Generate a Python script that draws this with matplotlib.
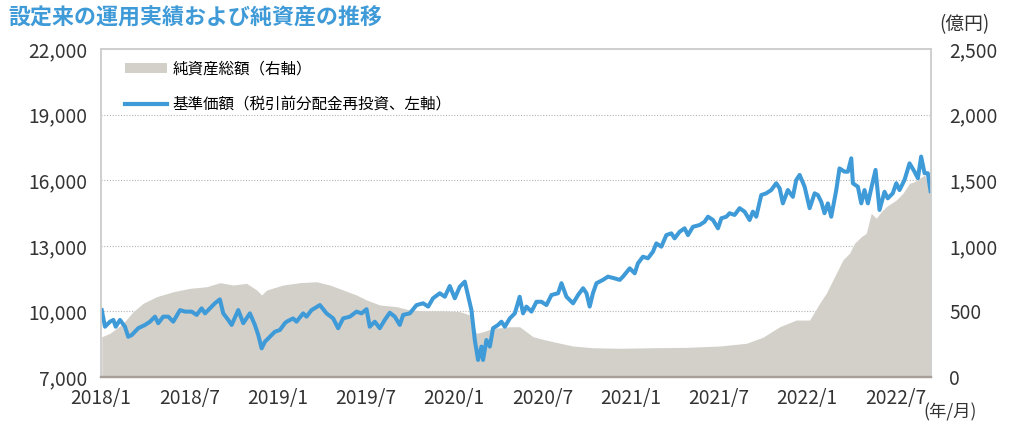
"""
Fund NAV (left axis) and net assets (right axis) since inception
"""

from matplotlib import pyplot as plt
from matplotlib.lines import Line2D
from matplotlib.patches import Patch

plt.rcParams['font.family'] = ['Noto Sans CJK JP', 'DejaVu Sans']

BLUE = '#3f9ad8'
GRAY = '#d3d0ca'

# months since 2018/1, base price (yen)
nav_month = [0.05, 0.27, 0.61, 0.84, 1.00, 1.29, 1.63, 1.85, 2.09, 2.53,
             2.99, 3.33, 3.67, 3.89, 4.23, 4.57, 4.91, 5.37, 5.71, 6.16,
             6.50, 6.84, 7.07, 7.40, 7.74, 8.08, 8.31, 8.65, 8.88, 9.33,
             9.67, 10.12, 10.46, 10.69, 10.92, 11.14, 11.48, 11.82, 12.16, 12.50,
             12.62, 13.06, 13.29, 13.74, 13.97, 14.31, 14.88, 15.33, 15.78, 16.12,
             16.46, 16.92, 17.37, 17.71, 18.05, 18.27, 18.61, 18.95, 19.29, 19.63,
             19.97, 20.31, 20.54, 20.99, 21.45, 21.90, 22.24, 22.57, 23.03, 23.37,
             23.71, 24.05, 24.39, 24.73, 25.18, 25.41, 25.63, 25.86, 25.97, 26.20,
             26.43, 26.65, 26.99, 27.22, 27.45, 27.79, 28.13, 28.46, 28.69, 28.92,
             29.26, 29.60, 29.94, 30.28, 30.62, 31.07, 31.30, 31.64, 32.09, 32.43,
             32.77, 33.00, 33.22, 33.44, 33.68, 34.12, 34.46, 34.92, 35.26, 35.48,
             35.94, 36.28, 36.50, 36.84, 37.18, 37.52, 37.75, 38.09, 38.43, 38.77,
             38.99, 39.33, 39.67, 39.90, 40.24, 40.69, 41.03, 41.26, 41.60, 41.94,
             42.17, 42.51, 42.73, 43.07, 43.41, 43.75, 44.09, 44.31, 44.54, 44.88,
             45.22, 45.56, 45.90, 46.13, 46.35, 46.69, 47.03, 47.26, 47.49, 47.83,
             48.17, 48.51, 48.73, 48.96, 49.18, 49.41, 49.64, 49.98, 50.20, 50.54,
             50.77, 51.00, 51.11, 51.45, 51.68, 51.90, 52.13, 52.36, 52.65, 52.92,
             53.26, 53.48, 53.82, 54.06, 54.28, 54.62, 54.96, 55.30, 55.53, 55.75,
             55.98, 56.20, 56.39]
nav = [10060, 9300, 9530, 9610, 9300, 9610, 9300, 8840, 8920, 9230,
       9380, 9530, 9760, 9460, 9760, 9760, 9530, 10060, 9990, 9990,
       9840, 10140, 9910, 10140, 10370, 10550, 9910, 9610, 9380, 10060,
       9460, 9910, 9380, 8920, 8310, 8610, 8840, 9070, 9150, 9460,
       9530, 9680, 9530, 9910, 9760, 10060, 10290, 9910, 9680, 9230,
       9680, 9760, 9990, 9910, 10100, 9300, 9530, 9230, 9610, 9940,
       9760, 9380, 9840, 9910, 10290, 10370, 10220, 10600, 10830, 10670,
       11160, 10600, 11130, 11360, 10060, 8690, 7780, 8390, 7780, 8690,
       8390, 9230, 9380, 9530, 9300, 9680, 9910, 10670, 9910, 10220,
       9990, 10440, 10440, 10290, 10750, 10830, 11290, 10670, 10370, 10750,
       11060, 10830, 10220, 10830, 11290, 11440, 11590, 11510, 11440, 11590,
       11970, 11740, 12200, 12500, 12430, 12730, 13110, 12960, 13490, 13570,
       13340, 13640, 13800, 13490, 13870, 13950, 14100, 14330, 14180, 13800,
       14260, 14330, 14490, 14410, 14720, 14560, 14180, 14560, 14330, 15320,
       15400, 15550, 15860, 15630, 14940, 15550, 15240, 16010, 16240, 15700,
       14720, 15400, 15320, 15010, 14490, 14940, 14330, 15550, 16540, 16390,
       16390, 17000, 15860, 15700, 14940, 15550, 14940, 15630, 16470, 14640,
       15470, 15170, 15400, 15860, 15550, 16010, 16770, 16390, 16090, 17080,
       16320, 16320, 15500]

# months since 2018/1, net assets (100 million yen)
aum_month = [0.05, 0.61, 1.51, 2.19, 2.87, 3.78, 4.91, 6.05, 7.18, 8.08,
             8.99, 9.90, 10.58, 10.92, 11.26, 12.38, 13.52, 14.65, 15.56, 16.46,
             17.37, 18.05, 18.95, 20.09, 20.99, 21.90, 23.25, 24.39, 25.07, 25.52,
             25.97, 26.65, 27.11, 27.79, 28.46, 29.37, 29.94, 30.73, 32.09, 33.44,
             35.26, 37.52, 39.79, 42.05, 43.87, 44.99, 46.13, 47.26, 48.17, 48.51,
             48.85, 49.30, 49.98, 50.43, 50.88, 51.22, 51.68, 52.02, 52.36, 52.70,
             53.04, 53.38, 54.06, 54.51, 54.96, 55.30, 55.64, 55.98, 56.32, 56.42]
aum = [307, 333, 409, 498, 562, 612, 650, 676, 688, 719,
       701, 714, 663, 625, 663, 701, 719, 726, 701, 663,
       625, 587, 549, 536, 511, 505, 505, 498, 473, 333,
       345, 371, 375, 383, 383, 307, 290, 269, 236, 223,
       219, 223, 226, 236, 257, 303, 383, 434, 434, 498,
       562, 638, 790, 892, 943, 1019, 1069, 1095, 1248, 1210,
       1260, 1298, 1349, 1400, 1476, 1489, 1514, 1540, 1450, 1440]

tick_months = [0, 6, 12, 18, 24, 30, 36, 42, 48, 54]
tick_labels = ['2018/1', '2018/7', '2019/1', '2019/7', '2020/1',
               '2020/7', '2021/1', '2021/7', '2022/1', '2022/7']


def plot_chart(filename='out.png'):
    fig = plt.figure(figsize=(10.24, 4.32), dpi=100)
    ax2 = fig.add_axes([101 / 1024, 1 - 377 / 432, 830 / 1024, 328 / 432])
    ax = ax2.twinx()
    ax.set_zorder(ax2.get_zorder() + 1)
    ax.patch.set_visible(False)

    # net assets on the right axis, drawn behind
    ax2.fill_between(aum_month, 0, aum, color=GRAY, lw=0, zorder=2)
    ax2.set_ylim(0, 2500)
    ax2.set_yticks(range(0, 2501, 500))
    ax2.set_yticklabels(['{:,}'.format(v) for v in range(0, 2501, 500)])
    ax2.yaxis.grid(True, color='#b4b4b4', linestyle=(0, (1, 1.5)), lw=0.8, zorder=1)
    ax2.set_axisbelow(True)

    # base price on the left axis
    ax.plot(nav_month, nav, color=BLUE, lw=2.9, solid_joinstyle='round')
    ax.set_ylim(7000, 22000)
    ax.set_yticks(range(7000, 22001, 3000))
    ax.set_yticklabels(['{:,}'.format(v) for v in range(7000, 22001, 3000)])

    # twinx puts the first axes on the left: swap sides
    ax.yaxis.tick_left()
    ax2.yaxis.tick_right()

    ax2.set_xlim(0, 56.42)
    ax2.set_xticks(tick_months)
    ax2.set_xticklabels(tick_labels)

    for a in (ax, ax2):
        a.tick_params(length=0, labelsize=13.8, colors='#333333')
        for s in a.spines.values():
            s.set_color('#cfcfcf')
            s.set_linewidth(1.2)
        a.spines['bottom'].set_color('#a8a098')
        a.spines['bottom'].set_linewidth(1.6)
    ax.tick_params(axis='y', pad=10)
    ax2.tick_params(axis='y', pad=13)
    ax2.tick_params(axis='x', pad=8)
    for lbl in ax2.get_yticklabels():
        lbl.set_horizontalalignment('left')

    handles = [Patch(facecolor=GRAY, edgecolor='none'),
               Line2D([], [], color=BLUE, lw=3)]
    labels = ['純資産総額（右軸）', '基準価額（税引前分配金再投資、左軸）']
    ax.legend(handles, labels, loc='upper left', bbox_to_anchor=(0.022, 0.985),
              frameon=False, fontsize=11.2, handlelength=2.7, handleheight=0.6,
              handletextpad=0.3, labelspacing=1.25, borderaxespad=0)

    fig.text(0.008, 0.957, '設定来の運用実績および純資産の推移', color=BLUE,
             fontsize=15.8, fontweight='bold', va='center', ha='left')
    fig.text(0.917, 0.943, '(億円)', fontsize=13.5, color='#333333',
             va='center', ha='left')
    fig.text(0.902, 0.046, '(年/月)', fontsize=12.5, color='#333333',
             va='center', ha='left')

    fig.savefig(filename, dpi=100)
    plt.close(fig)


if __name__ == '__main__':
    plot_chart()
